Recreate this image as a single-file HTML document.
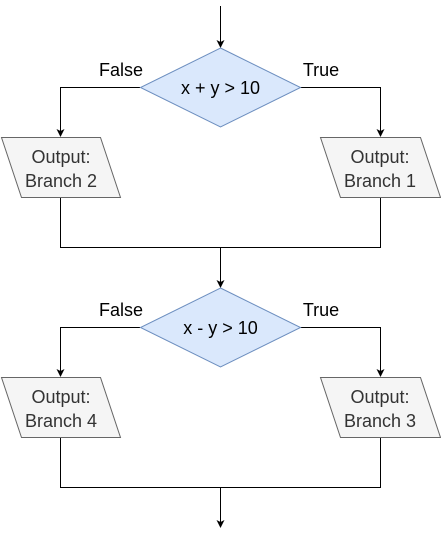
<!DOCTYPE html>
<html><head><style>body{margin:0;background:#fff}svg{display:block}</style></head><body>
<svg width="441" height="536" xmlns="http://www.w3.org/2000/svg" font-family="Liberation Sans, sans-serif" font-size="18">
<defs><marker id="a" markerWidth="8" markerHeight="8" refX="7" refY="4" orient="auto" markerUnits="userSpaceOnUse"><path d="M0,0 L8,4 L0,8 L2,4 Z" fill="#000"/></marker></defs>
<g fill="none" stroke="#000" stroke-width="1">
<line x1="220.5" y1="6" x2="220.5" y2="47" marker-end="url(#a)"/>
<polyline points="140,87.5 60.5,87.5 60.5,136" marker-end="url(#a)"/>
<polyline points="300,87.5 380.5,87.5 380.5,136" marker-end="url(#a)"/>
<polyline points="60.5,197 60.5,247.5 380.5,247.5 380.5,197"/>
<line x1="220.5" y1="247" x2="220.5" y2="287" marker-end="url(#a)"/>
<polyline points="140,327.5 60.5,327.5 60.5,376" marker-end="url(#a)"/>
<polyline points="300,327.5 380.5,327.5 380.5,376" marker-end="url(#a)"/>
<polyline points="60.5,437 60.5,487.5 380.5,487.5 380.5,437"/>
<line x1="220.5" y1="487" x2="220.5" y2="527" marker-end="url(#a)"/>
</g>
<g fill="#dae8fc" stroke="#6c8ebf">
<polygon points="220.5,48 300.5,87.5 220.5,127 140.5,87.5"/>
<polygon points="220.5,288 300.5,327.5 220.5,367 140.5,327.5"/>
</g>
<g fill="#f5f5f5" stroke="#666">
<polygon points="1.5,137.5 100.5,137.5 120.5,197.5 21.5,197.5"/>
<polygon points="320.5,137.5 420.5,137.5 440.5,197.5 340.5,197.5"/>
<polygon points="1.5,377.5 100.5,377.5 120.5,437.5 21.5,437.5"/>
<polygon points="320.5,377.5 420.5,377.5 440.5,437.5 340.5,437.5"/>
</g>
<g text-anchor="middle" fill="#000">
<text x="220.5" y="94">x + y &gt; 10</text>
<text x="220.5" y="334">x - y &gt; 10</text>
<text x="121" y="76">False</text><text x="321" y="76">True</text>
<text x="121" y="316">False</text><text x="321" y="316">True</text>
</g>
<g text-anchor="middle" fill="#333">
<text x="61" y="163">Output:</text><text x="61" y="187">Branch 2</text>
<text x="380" y="163">Output:</text><text x="380" y="187">Branch 1</text>
<text x="61" y="403">Output:</text><text x="61" y="427">Branch 4</text>
<text x="380" y="403">Output:</text><text x="380" y="427">Branch 3</text>
</g>
</svg>
</body></html>
